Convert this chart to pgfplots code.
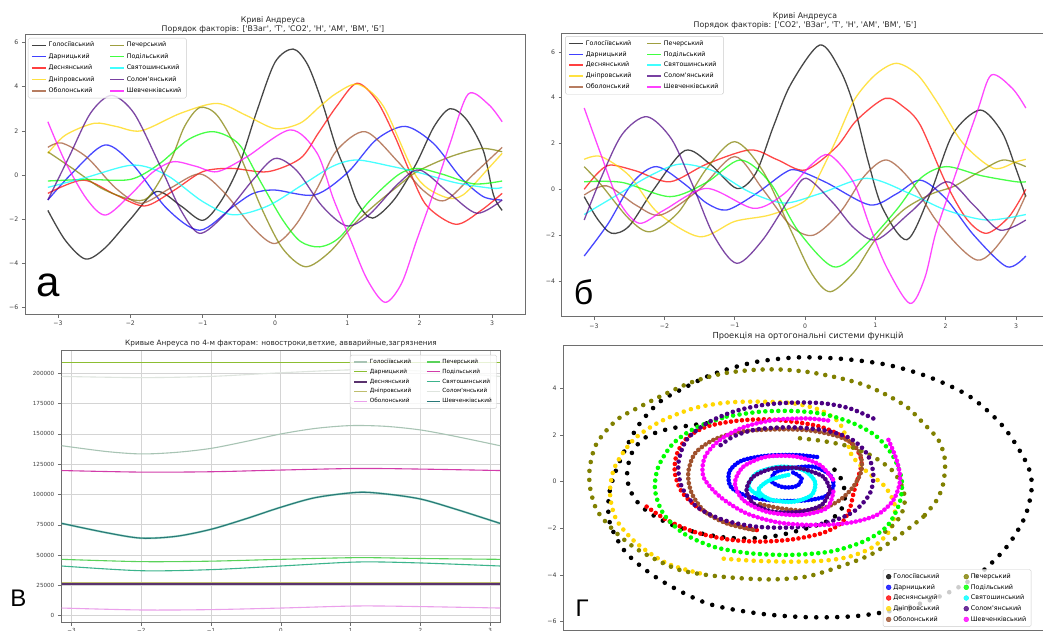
\documentclass[border=0pt]{standalone}
\usepackage{pgfplots}
\pgfplotsset{compat=1.18}
\usepackage{fontspec}
\setmainfont{DejaVu Sans}[Ligatures=TeXOff]
\newfontfamily\labfont{Liberation Sans}
\definecolor{cK}{RGB}{0,0,0}
\definecolor{cB}{RGB}{0,0,255}
\definecolor{cR}{RGB}{255,0,0}
\definecolor{cY}{RGB}{255,215,0}
\definecolor{cS}{RGB}{160,82,45}
\definecolor{cO}{RGB}{128,128,0}
\definecolor{cL}{RGB}{0,255,0}
\definecolor{cC}{RGB}{0,255,255}
\definecolor{cI}{RGB}{75,0,130}
\definecolor{cM}{RGB}{255,0,255}
\definecolor{vGol}{RGB}{168,196,180}
\definecolor{vDar}{RGB}{140,190,50}
\definecolor{vDes}{RGB}{90,50,110}
\definecolor{vDni}{RGB}{190,190,110}
\definecolor{vObo}{RGB}{235,160,235}
\definecolor{vPech}{RGB}{90,210,90}
\definecolor{vPod}{RGB}{210,60,170}
\definecolor{vSvy}{RGB}{60,180,140}
\definecolor{vSol}{RGB}{222,228,222}
\definecolor{vShev}{RGB}{40,120,120}
\definecolor{frameg}{RGB}{110,110,110}
\pgfplotsset{
  panel/.style={scale only axis, anchor=south west, tick pos=left, tick align=outside,
    major tick length=3.2pt, axis line style={frameg, line width=0.7pt},
    every tick/.style={frameg, line width=0.6pt},
    tick label style={font=\fontsize{6.2}{7}\selectfont, text=black!75},
    xtick={-3,...,3}, xticklabels={−3,−2,−1,0,1,2,3}, scaled ticks=false,
    legend cell align=left, legend columns=2},
  andr/.style={smooth, no marks, line width=1.3pt, draw opacity=0.72, forget plot},
  andrL/.style={line width=1.5pt, draw opacity=0.75},
  dotsp/.style={smooth, no marks, line width=4.6pt, line cap=round, dash pattern=on 0pt off #1, forget plot},
  vl/.style={smooth, no marks, line width=1.1pt, forget plot},
}
\newcommand\linelegend{%
\addlegendimage{cK,andrL}\addlegendentry{Голосіївський}
\addlegendimage{cO,andrL}\addlegendentry{Печерський}
\addlegendimage{cB,andrL}\addlegendentry{Дарницький}
\addlegendimage{cL,andrL}\addlegendentry{Подільський}
\addlegendimage{cR,andrL}\addlegendentry{Деснянський}
\addlegendimage{cC,andrL}\addlegendentry{Святошинський}
\addlegendimage{cY,andrL}\addlegendentry{Дніпровський}
\addlegendimage{cI,andrL}\addlegendentry{Солом'янський}
\addlegendimage{cS,andrL}\addlegendentry{Оболонський}
\addlegendimage{cM,andrL}\addlegendentry{Шевченківський}}
\begin{document}
\begin{tikzpicture}
\useasboundingbox (0,0) rectangle (1043pt,631pt);
\clip (0,0) rectangle (1043pt,631pt);
\fill[white] (0,0) rectangle (1043pt,631pt);
% ---------------- panel a
\begin{axis}[panel, at={(25pt,316.5pt)}, width=500pt, height=280.5pt,
  xmin=-3.456, xmax=3.456, ymin=-6.31, ymax=6.38,
  ytick={-6,-4,...,6}, yticklabels={−6,−4,−2,0,2,4,6},
  legend image code/.code={\draw[#1] (0pt,0pt) -- (14pt,0pt);},
  legend style={at={(0.006,0.986)}, anchor=north west, draw=black!20, rounded corners=1.5pt,
    fill=white, fill opacity=0.8, text opacity=1, font=\fontsize{6.3}{7}\selectfont,
    row sep=1.1pt, /tikz/every even column/.append style={column sep=13pt}}]
\addplot[andr, cK] coordinates {(-3.14,-1.6) (-2.9,-2.95) (-2.62,-3.8) (-2.35,-3.3) (-2.0,-2.0) (-1.64,-0.75) (-1.3,-1.4) (-1.0,-2.05) (-0.75,-1.2) (-0.5,0.4) (-0.25,2.9) (0.0,5.1) (0.25,5.7) (0.45,5.0) (0.65,3.3) (0.85,1.2) (1.0,0.0) (1.15,-1.3) (1.35,-1.95) (1.65,-1.1) (1.95,0.5) (2.2,2.2) (2.42,3.0) (2.65,2.5) (2.88,1.1) (3.02,-0.9) (3.14,-1.6)};
\addplot[andr, cB] coordinates {(-3.14,-1.13) (-2.8,0.1) (-2.35,1.36) (-1.96,0.45) (-1.5,-1.5) (-1.04,-2.5) (-0.58,-1.43) (-0.3,-0.83) (0.0,-0.68) (0.55,-0.9) (1.0,0.1) (1.4,1.6) (1.8,2.2) (2.19,1.43) (2.56,-0.08) (2.88,-0.98) (3.14,-1.13)};
\addplot[andr, cR] coordinates {(-3.14,-0.83) (-2.65,-0.23) (-2.2,-0.9) (-1.8,-1.4) (-1.4,-0.7) (-1.0,0.15) (-0.6,0.3) (-0.1,0.15) (0.35,0.75) (0.6,1.9) (0.85,3.1) (1.13,4.15) (1.4,3.4) (1.65,1.8) (1.87,0.1) (2.1,-1.4) (2.5,-2.23) (2.85,-1.6) (3.14,-0.83)};
\addplot[andr, cY] coordinates {(-3.14,0.98) (-2.9,1.8) (-2.5,2.34) (-2.2,2.2) (-1.85,2.0) (-1.3,2.8) (-0.8,3.24) (-0.4,2.7) (0.0,2.1) (0.35,2.35) (0.62,3.1) (0.85,3.7) (1.15,4.1) (1.5,3.1) (1.96,-0.1) (2.35,-1.0) (2.6,-0.9) (2.95,0.3) (3.14,0.98)};
\addplot[andr, cS] coordinates {(-3.14,1.25) (-2.95,1.45) (-2.6,0.8) (-2.2,-0.6) (-1.85,-1.28) (-1.45,-0.6) (-1.04,0.05) (-0.7,-0.8) (-0.3,-2.4) (0.0,-3.1) (0.3,-2.2) (0.6,-0.5) (0.85,1.1) (1.25,1.96) (1.7,0.6) (2.05,-0.7) (2.35,-1.15) (2.75,0.05) (3.14,1.25)};
\addplot[andr, cO] coordinates {(-3.14,1.05) (-2.8,0.3) (-2.4,-0.6) (-2.0,-1.1) (-1.75,-1.0) (-1.45,0.6) (-1.25,2.2) (-1.04,3.05) (-0.8,2.7) (-0.5,1.0) (-0.2,-1.4) (0.1,-3.3) (0.42,-4.15) (0.75,-3.5) (1.1,-2.2) (1.4,-1.3) (1.7,-0.5) (1.96,0.15) (2.4,0.8) (2.84,1.2) (3.14,1.05)};
\addplot[andr, cL] coordinates {(-3.14,-0.27) (-2.6,-0.2) (-2.0,-0.2) (-1.6,0.5) (-1.2,1.6) (-0.85,1.96) (-0.5,1.4) (-0.2,-0.3) (0.1,-2.0) (0.35,-3.0) (0.62,-3.25) (0.9,-2.8) (1.3,-1.2) (1.7,0.0) (1.96,0.3) (2.3,0.05) (2.75,-0.4) (3.14,-0.27)};
\addplot[andr, cC] coordinates {(-3.14,-0.56) (-2.6,-0.1) (-1.96,0.45) (-1.5,0.0) (-1.0,-1.2) (-0.58,-1.8) (-0.1,-1.4) (0.4,-0.4) (0.8,0.4) (1.13,0.68) (1.6,0.4) (2.0,0.1) (2.5,-0.35) (3.0,-0.6) (3.14,-0.56)};
\addplot[andr, cI] coordinates {(-3.14,-1.13) (-2.85,0.8) (-2.55,2.8) (-2.26,3.6) (-1.95,2.8) (-1.6,0.5) (-1.3,-1.6) (-1.04,-2.64) (-0.7,-1.8) (-0.3,-0.2) (0.0,0.75) (0.3,0.2) (0.65,-1.4) (0.99,-2.3) (1.3,-1.8) (1.7,-0.4) (2.0,0.23) (2.4,-0.8) (2.79,-1.73) (3.14,-1.13)};
\addplot[andr, cM] coordinates {(-3.14,2.41) (-2.9,0.6) (-2.6,-1.1) (-2.34,-1.81) (-2.0,-0.9) (-1.7,0.1) (-1.41,0.6) (-1.1,0.4) (-0.8,0.15) (-0.4,0.8) (0.21,2.04) (0.58,1.0) (0.81,-1.1) (1.04,-2.9) (1.27,-4.7) (1.52,-5.76) (1.75,-4.9) (1.96,-2.94) (2.19,-0.83) (2.42,1.43) (2.67,3.66) (2.95,3.2) (3.14,2.41)};
\linelegend
\end{axis}
% ---------------- panel b
\begin{axis}[panel, at={(561.7pt,314.3pt)}, width=486.6pt, height=283.4pt,
  xmin=-3.46, xmax=3.46, ymin=-5.56, ymax=6.81,
  ytick={-4,-2,...,6}, yticklabels={−4,−2,0,2,4,6},
  legend image code/.code={\draw[#1] (0pt,0pt) -- (14pt,0pt);},
  legend style={at={(0.007,0.99)}, anchor=north west, draw=black!20, rounded corners=1.5pt,
    fill=white, fill opacity=0.8, text opacity=1, font=\fontsize{6.3}{7}\selectfont,
    row sep=0.6pt, /tikz/every even column/.append style={column sep=13pt}}]
\addplot[andr, cK] coordinates {(-3.14,-0.32) (-2.95,-1.3) (-2.75,-1.92) (-2.5,-1.6) (-2.15,0.0) (-1.71,1.69) (-1.35,1.1) (-0.97,0.04) (-0.7,0.7) (-0.45,2.74) (-0.2,4.6) (0.21,6.3) (0.5,5.2) (0.7,3.6) (0.9,1.2) (1.1,-0.8) (1.45,-2.2) (1.78,-0.2) (2.1,2.4) (2.49,3.46) (2.8,2.5) (3.0,0.9) (3.14,-0.32)};
\addplot[andr, cB] coordinates {(-3.14,-2.91) (-2.8,-1.5) (-2.45,0.3) (-2.11,0.99) (-1.7,0.2) (-1.4,-0.6) (-1.11,-0.9) (-0.7,-0.2) (-0.3,0.7) (-0.12,0.84) (0.3,0.3) (0.92,-0.68) (1.3,-0.2) (1.64,0.4) (2.0,-0.4) (2.4,-2.0) (2.87,-3.38) (3.14,-2.91)};
\addplot[andr, cR] coordinates {(-3.14,0.0) (-2.95,0.7) (-2.77,1.06) (-2.4,0.8) (-1.92,0.33) (-1.4,1.1) (-0.78,1.72) (-0.4,1.3) (0.0,0.84) (0.45,1.86) (0.73,3.0) (1.14,3.97) (1.4,3.6) (1.64,2.8) (2.0,0.3) (2.3,-1.3) (2.58,-1.92) (2.9,-1.2) (3.14,0.0)};
\addplot[andr, cY] coordinates {(-3.14,1.31) (-2.9,1.43) (-2.5,0.6) (-2.1,-1.0) (-1.5,-2.07) (-1.0,-1.4) (-0.5,-1.12) (0.0,-0.5) (0.2,0.6) (0.45,2.2) (0.7,3.9) (1.0,5.0) (1.3,5.5) (1.6,5.0) (1.88,3.8) (2.25,2.0) (2.68,0.92) (3.0,1.2) (3.14,1.31)};
\addplot[andr, cS] coordinates {(-3.14,-0.25) (-2.82,0.15) (-2.4,-0.7) (-2.05,-1.12) (-1.5,0.0) (-1.0,1.43) (-0.6,0.0) (-0.2,-1.6) (0.12,-2.0) (0.5,-1.0) (0.85,0.6) (1.16,1.28) (1.5,0.4) (1.9,-1.5) (2.45,-3.09) (2.85,-2.0) (3.14,-0.25)};
\addplot[andr, cO] coordinates {(-3.14,0.99) (-2.9,0.2) (-2.5,-1.3) (-2.2,-1.85) (-1.8,-1.0) (-1.4,0.9) (-1.0,2.08) (-0.6,0.8) (-0.2,-1.8) (0.1,-3.7) (0.36,-4.47) (0.7,-3.6) (1.0,-2.2) (1.4,-0.9) (1.8,-0.2) (2.11,0.12) (2.5,0.8) (2.82,1.28) (3.14,0.99)};
\addplot[andr, cL] coordinates {(-3.14,0.33) (-2.6,0.3) (-1.92,-0.32) (-1.4,0.3) (-0.92,1.28) (-0.5,0.3) (-0.1,-1.8) (0.4,-3.38) (0.8,-2.6) (1.3,-0.9) (1.65,0.5) (2.01,0.99) (2.5,0.6) (3.0,0.33) (3.14,0.33)};
\addplot[andr, cC] coordinates {(-3.14,-1.1) (-2.7,-0.3) (-2.2,0.6) (-1.78,1.1) (-1.3,0.8) (-0.8,-0.1) (-0.3,-0.6) (0.2,-0.2) (0.88,0.48) (1.5,-0.2) (2.0,-0.9) (2.58,-1.34) (3.14,-1.1)};
\addplot[andr, cI] coordinates {(-3.14,-1.34) (-2.9,0.5) (-2.6,2.4) (-2.25,3.17) (-1.9,2.2) (-1.6,0.2) (-1.3,-2.0) (-0.97,-3.23) (-0.6,-2.2) (-0.2,-0.3) (0.02,0.48) (0.4,-0.6) (0.7,-1.7) (1.02,-2.2) (1.5,-1.0) (2.01,0.33) (2.4,-0.7) (2.77,-1.78) (3.14,-1.34)};
\addplot[andr, cM] coordinates {(-3.14,3.55) (-2.9,1.5) (-2.65,-0.5) (-2.36,-1.48) (-2.0,-0.9) (-1.4,0.04) (-0.73,-0.83) (-0.3,-0.2) (0.1,1.1) (0.35,1.5) (0.69,0.3) (0.92,-1.6) (1.16,-3.4) (1.49,-4.98) (1.7,-3.9) (1.86,-1.9) (2.1,0.3) (2.45,3.4) (2.65,4.99) (2.95,4.4) (3.14,3.55)};
\linelegend
\end{axis}
% ---------------- panel v
\begin{axis}[panel, at={(61pt,8.3pt)}, width=439pt, height=272.7pt,
  xmin=-3.15, xmax=3.14, ymin=-5800, ymax=219300,
  ytick={0,25000,...,200000}, yticklabels={0,25000,50000,75000,100000,125000,150000,175000,200000},
  grid=major, major grid style={black!17, line width=0.8pt},
  tick label style={font=\fontsize{5.6}{6.5}\selectfont, text=black!75},
  xticklabel style={yshift=1.5pt},
  legend image code/.code={\draw[#1] (0pt,0pt) -- (13pt,0pt);},
  legend style={at={(0.993,0.982)}, anchor=north east, draw=black!20, rounded corners=1.5pt,
    fill=white, fill opacity=0.8, text opacity=1, font=\fontsize{5.7}{6.5}\selectfont,
    row sep=0pt, /tikz/every even column/.append style={column sep=13pt}}]
\addplot[vl, vSol] coordinates {(-3.14,197500) (-2,196500) (-1,197500) (0,200500) (1.1,203000) (2,202000) (3.14,197500)};
\addplot[vl, vDar] coordinates {(-3.14,209100) (0,209100) (3.14,209100)};
\addplot[vl, vGol] coordinates {(-3.14,140300) (-2.5,135500) (-2,133500) (-1.5,134800) (-1,138100) (-0.5,143800) (0,150000) (0.5,154600) (1,156900) (1.5,156300) (2,153300) (2.5,148000) (3.14,140300)};
\addplot[vl, vPod] coordinates {(-3.14,119800) (-2,118500) (-1,118800) (0,120200) (1.1,121500) (2,121000) (3.14,119800)};
\addplot[vl, vSvy, line width=2pt, opacity=0.5] coordinates {(-3.14,76200) (-2.5,68500) (-2,64000) (-1.5,65500) (-1,71300) (-0.5,80000) (0,89500) (0.5,97500) (1.1,101800) (1.5,100500) (2,96300) (2.5,88000) (3.14,76200)};
\addplot[vl, vShev] coordinates {(-3.14,76200) (-2.5,68500) (-2,64000) (-1.5,65500) (-1,71300) (-0.5,80000) (0,89500) (0.5,97500) (1.1,101800) (1.5,100500) (2,96300) (2.5,88000) (3.14,76200)};
\addplot[vl, vPech] coordinates {(-3.14,46500) (-2,44600) (-1,45000) (0,46500) (1.1,47900) (2,47200) (3.14,46500)};
\addplot[vl, vSvy] coordinates {(-3.14,41000) (-2,37100) (-1,38000) (0,41000) (1.1,44300) (2,43500) (3.14,41000)};
\addplot[vl, vDni] coordinates {(-3.14,27300) (0,27300) (3.14,27300)};
\addplot[vl, vDes, line width=1.8pt] coordinates {(-3.14,25900) (0,25900) (3.14,25900)};
\addplot[vl, vObo] coordinates {(-3.14,6300) (-2,4700) (-1,5000) (0,6300) (1.1,8000) (2,7500) (3.14,6300)};
\addlegendimage{vGol,line width=1.2pt}\addlegendentry{Голосіївський}
\addlegendimage{vPech,line width=1.2pt}\addlegendentry{Печерський}
\addlegendimage{vDar,line width=1.2pt}\addlegendentry{Дарницький}
\addlegendimage{vPod,line width=1.2pt}\addlegendentry{Подільський}
\addlegendimage{vDes,line width=1.8pt}\addlegendentry{Деснянський}
\addlegendimage{vSvy,line width=1.2pt}\addlegendentry{Святошинський}
\addlegendimage{vDni,line width=1.2pt}\addlegendentry{Дніпровський}
\addlegendimage{vSol,line width=1.2pt}\addlegendentry{Солом'янський}
\addlegendimage{vObo,line width=1.2pt}\addlegendentry{Оболонський}
\addlegendimage{vShev,line width=1.2pt}\addlegendentry{Шевченківський}
\end{axis}
% ---------------- panel g
\begin{axis}[panel, at={(563.3pt,1pt)}, width=482pt, height=285pt,
  xmin=-10.14, xmax=10.51, ymin=-6.36, ymax=5.86,
  xtick=\empty, ytick={-6,-4,...,4}, yticklabels={−6,−4,−2,0,2,4},
  legend style={at={(0.663,0.213)}, anchor=north west, draw=black!20, rounded corners=1.5pt,
    fill=white, fill opacity=0.8, text opacity=1, font=\fontsize{6.4}{7}\selectfont,
    row sep=0.3pt, /tikz/every even column/.append style={column sep=22pt}}]
\addplot[dotsp=10.5pt, cK] coordinates {(-4.00,2.50) (-4.86,2.39) (-5.71,2.24) (-6.57,1.93) (-7.14,1.36) (-7.40,0.50) (-7.31,-0.29) (-6.86,-1.00) (-6.14,-1.53) (-5.29,-1.93) (-4.29,-2.21) (-3.14,-2.40) (-2.00,-2.43) (-0.86,-2.29) (0.29,-2.00) (1.14,-1.71) (1.71,-1.29) (1.93,-0.64) (1.79,0.07) (1.43,0.57)};
\addplot[dotsp=10.5pt, cK] coordinates {(-3.14,4.81) (-1.86,5.14) (-0.07,5.33) (1.86,5.26) (3.79,5.00) (5.57,4.47) (7.29,3.64) (8.71,2.36) (9.71,0.79) (9.93,-0.21) (9.64,-1.50) (8.86,-2.79) (7.71,-3.93) (6.29,-4.79) (4.57,-5.40) (2.43,-5.76) (0.29,-5.81) (-1.86,-5.64) (-4.00,-5.21) (-6.00,-4.21) (-7.43,-3.07) (-8.14,-1.79) (-8.19,-0.64) (-7.93,0.36) (-7.43,1.50) (-6.86,2.50) (-6.00,3.43) (-5.00,4.00) (-4.00,4.50) (-3.14,4.81)};
\addplot[dotsp=3.5pt, cB] coordinates {(-0.29,0.39) (0.07,0.14) (-0.14,-0.19) (-0.71,-0.24) (-1.21,0.0) (-1.07,0.39) (-0.43,0.57) (0.57,0.64) (1.29,0.29) (1.43,-0.21) (1.07,-0.64) (0.14,-0.81) (-1.14,-0.81) (-2.29,-0.61) (-2.97,-0.21) (-3.03,0.43) (-2.5,0.9) (-1.43,1.11) (-0.14,1.14) (0.86,1.04)};
\addplot[dotsp=5.5pt, cR] coordinates {(-6.57,-1.07) (-5.71,-1.64) (-4.57,-2.14) (-3.14,-2.47) (-1.71,-2.57) (-0.29,-2.47) (1.0,-2.19) (1.79,-1.76) (2.14,-1.14) (2.29,-0.5) (2.5,0.21) (2.64,0.86) (2.36,1.5) (1.71,2.0) (0.86,2.36) (-0.29,2.57) (-1.43,2.67) (-2.71,2.61) (-4.0,2.36) (-4.86,1.86) (-5.29,1.14) (-5.36,0.36) (-5.07,-0.43) (-4.43,-1.07) (-3.43,-1.64) (-2.57,-1.93) (-1.71,-2.1)};
\addplot[dotsp=7.5pt, cY] coordinates {(-4.29,-3.93) (-5.71,-3.5) (-7.0,-2.64) (-7.86,-1.64) (-8.14,-0.5) (-7.93,0.64) (-7.14,1.79) (-6.0,2.57) (-4.57,3.14) (-3.14,3.39) (-1.71,3.43) (-0.29,3.36) (0.86,3.07) (1.64,2.57) (2.0,1.86) (2.21,1.14) (2.86,0.43) (3.64,-0.21) (4.07,-1.07) (3.86,-2.07) (3.14,-2.79) (2.14,-3.21) (1.0,-3.39) (-0.43,-3.43) (-2.0,-3.39) (-3.43,-3.29)};
\addplot[dotsp=4.5pt, cS] coordinates {(-1.71,-0.96) (-0.86,-1.14) (0.14,-1.24) (1.0,-1.14) (1.71,-0.79) (2.29,-0.21) (2.64,0.5) (2.57,1.21) (2.14,1.71) (1.43,2.0) (0.29,2.21) (-1.14,2.24) (-2.57,2.14) (-3.71,1.79) (-4.5,1.21) (-4.79,0.36) (-4.64,-0.5) (-4.07,-1.29) (-3.14,-1.79) (-2.0,-2.07)};
\addplot[dotsp=9pt, cO] coordinates {(0,1.86) (1.0,1.74) (2.14,1.5) (3.14,1.07) (4.0,0.43) (4.43,-0.36) (4.46,-1.07) (4.14,-1.71) (3.57,-2.21)};
\addplot[dotsp=9pt, cO] coordinates {(5.29,-1.5) (4.57,-2.07) (3.14,-3.07) (1.71,-3.64) (0.29,-4.07) (-1.14,-4.19) (-2.57,-4.14) (-4.0,-4.0) (-5.14,-3.79) (-6.14,-3.36) (-7.14,-2.79) (-8.0,-2.07) (-8.71,-1.21) (-9.0,-0.21) (-9.0,0.64) (-8.71,1.64) (-7.86,2.64) (-6.86,3.21) (-5.71,3.79) (-4.57,4.29) (-3.29,4.64) (-2.0,4.79) (-0.86,4.81) (0.29,4.71) (1.43,4.5) (2.57,4.21) (3.57,3.79) (4.57,3.21) (5.29,2.5) (5.93,1.79) (6.21,0.93) (6.14,-0.07) (5.86,-0.79) (5.29,-1.5)};
\addplot[dotsp=6.5pt, cL] coordinates {(-3.14,2.79) (-1.71,3.0) (-0.29,3.03) (1.0,2.9) (2.29,2.5) (3.29,1.93) (4.0,1.07) (4.36,0.07) (4.26,-0.93) (3.71,-1.93) (2.71,-2.57) (1.29,-3.0) (-0.43,-3.14) (-2.14,-3.07) (-3.71,-2.79) (-5.0,-2.21) (-5.86,-1.36) (-6.21,-0.36) (-6.07,0.64) (-5.43,1.64) (-4.43,2.33) (-3.14,2.79)};
\addplot[dotsp=3pt, cC] coordinates {(-0.5,0.29) (-1.29,0.07) (-1.79,-0.36) (-1.29,-0.76) (-0.29,-0.86) (0.5,-0.57) (0.64,0.0) (0.14,0.5) (-0.86,0.64) (-1.86,0.36) (-2.21,-0.21) (-1.71,-0.64)};
\addplot[dotsp=6pt, cI] coordinates {(3.14,2.71) (2.14,3.14) (1.0,3.36) (-0.29,3.39) (-1.57,3.29) (-2.86,3.0) (-4.0,2.5) (-4.86,1.79) (-5.21,0.79) (-5.07,-0.21) (-4.43,-1.07) (-3.29,-1.64) (-1.86,-1.93) (-0.29,-1.96) (1.14,-1.76) (2.29,-1.29) (3.0,-0.5) (3.14,0.36) (2.86,1.21) (2.14,1.86) (1.0,2.21) (-0.43,2.33) (-1.86,2.24) (-2.86,1.93) (-3.57,1.43)};
\addplot[dotsp=4pt, cI] coordinates {(1.29,-0.36) (0.93,-1.0) (0,-1.29) (-1.14,-1.29) (-2.0,-0.93) (-2.29,-0.36) (-2.0,0.21) (-1.14,0.57) (0,0.57) (1.0,0.21) (1.29,-0.36)};
\addplot[dotsp=4.5pt, cM] coordinates {(3.79,1.79) (4.14,0.93) (4.29,0.07) (4.0,-0.79) (3.29,-1.43) (2.14,-1.76) (0.71,-1.86) (-0.86,-1.76) (-2.29,-1.36) (-3.43,-0.64) (-4.14,0.21) (-4.07,1.07) (-3.43,1.79) (-2.43,2.33) (-1.14,2.64) (0.29,2.71) (1.29,2.61)};
\addplot[dotsp=4pt, cM] coordinates {(1.43,-0.43) (1.14,-1.14) (0,-1.43) (-1.43,-1.29) (-2.43,-0.79) (-2.79,-0.07) (-2.43,0.64) (-1.43,1.07) (-0.14,1.07) (0.86,0.71) (1.43,0.07)};
\addlegendimage{legend image code/.code={\fill[cK] (5pt,0pt) circle (2.4pt);}}\addlegendentry{Голосіївський}
\addlegendimage{legend image code/.code={\fill[cO] (5pt,0pt) circle (2.4pt);}}\addlegendentry{Печерський}
\addlegendimage{legend image code/.code={\fill[cB] (5pt,0pt) circle (2.4pt);}}\addlegendentry{Дарницький}
\addlegendimage{legend image code/.code={\fill[cL] (5pt,0pt) circle (2.4pt);}}\addlegendentry{Подільський}
\addlegendimage{legend image code/.code={\fill[cR] (5pt,0pt) circle (2.4pt);}}\addlegendentry{Деснянський}
\addlegendimage{legend image code/.code={\fill[cC] (5pt,0pt) circle (2.4pt);}}\addlegendentry{Святошинський}
\addlegendimage{legend image code/.code={\fill[cY] (5pt,0pt) circle (2.4pt);}}\addlegendentry{Дніпровський}
\addlegendimage{legend image code/.code={\fill[cI] (5pt,0pt) circle (2.4pt);}}\addlegendentry{Солом'янський}
\addlegendimage{legend image code/.code={\fill[cS] (5pt,0pt) circle (2.4pt);}}\addlegendentry{Оболонський}
\addlegendimage{legend image code/.code={\fill[cM] (5pt,0pt) circle (2.4pt);}}\addlegendentry{Шевченківський}
\end{axis}
% ---------------- titles and panel letters
\node[font=\fontsize{7.8}{9.5}\selectfont, align=center, text=black!85] at (273pt,606pt) {Криві Андреуса\\Порядок факторів: ['ВЗаг', 'Т', 'СО2', 'Н', 'АМ', 'ВМ', 'Б']};
\node[font=\fontsize{7.8}{9}\selectfont, align=center, text=black!85] at (805pt,610pt) {Криві Андреуса\\Порядок факторів: ['CO2', 'ВЗаг', 'Т', 'Н', 'АМ', 'ВМ', 'Б']};
\node[font=\fontsize{7.3}{9}\selectfont, text=black!85] at (281pt,287.7pt) {Кривые Анреуса по 4-м факторам: новостроки,ветхие, авварийные,загрязнения};
\node[font=\fontsize{8.3}{9}\selectfont, text=black!85] at (808pt,294.3pt) {Проекція на ортогональні системи функцій};
\node[font=\labfont\fontsize{42}{42}\selectfont, anchor=base] at (48.5pt,334pt) {а};
\node[font=\labfont\fontsize{34}{34}\selectfont, anchor=base] at (583.5pt,326pt) {б};
\node[font=\labfont\fontsize{24}{24}\selectfont, anchor=base] at (18.5pt,24pt) {В};
\node[font=\labfont\fontsize{24}{24}\selectfont, anchor=base] at (582pt,14pt) {Г};
\end{tikzpicture}
\end{document}
